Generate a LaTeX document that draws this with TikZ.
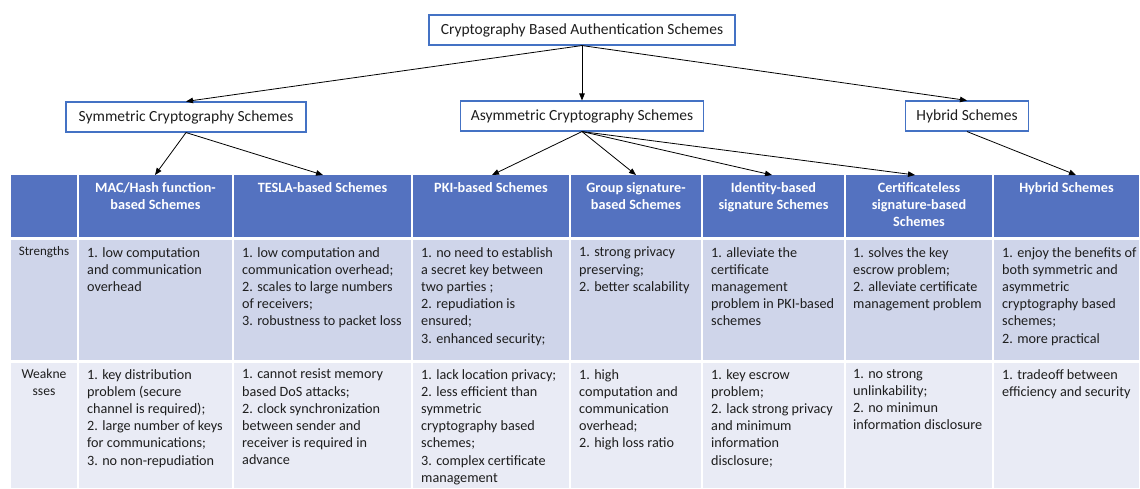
\documentclass[tikz,border=0pt]{standalone}
\usepackage{fontspec}
\setmainfont{Carlito}
\usetikzlibrary{arrows.meta,positioning}
\definecolor{boxblue}{RGB}{68,114,196}
\definecolor{hdrblue}{RGB}{84,114,192}
\definecolor{rowdark}{RGB}{207,213,234}
\definecolor{rowlight}{RGB}{233,235,245}
\definecolor{txt}{RGB}{30,30,30}

\begin{document}
\begin{tikzpicture}[x=1pt,y=-1pt,
  schemebox/.style={draw=boxblue, line width=1.1pt, fill=white, minimum height=30pt,
    inner xsep=8pt, font=\fontsize{15.5}{18}\selectfont, text=txt},
  arr/.style={-{Triangle[length=7pt,width=5.5pt]}, line width=0.8pt},
  hdrtext/.style={anchor=north, align=center, inner sep=0pt, text=white,
    font=\fontsize{14.2}{17.2}\selectfont\bfseries},
  celltext/.style={anchor=north west, align=left, inner sep=0pt, text=txt,
    font=\fontsize{14.2}{17.2}\selectfont},
  rowlabel/.style={anchor=north, align=center, inner sep=0pt, text=txt}]

\useasboundingbox (0,0) rectangle (1140,488);

% Celdas de la tabla: cabecera, fortalezas, debilidades
\foreach \xa/\xb in {10/78, 78/233, 233/412, 412/570, 570/702, 702/845, 845/993, 993/1140} {
  \fill[hdrblue]  (\xa+1,175) rectangle (\xb-1,237);
  \fill[rowdark]  (\xa+1,240) rectangle (\xb-1,360);
  \fill[rowlight] (\xa+1,363) rectangle (\xb-1,488);
}

% Cajas de la jerarquía
\node[schemebox, minimum width=306pt] (root)   at (582,30)  {Cryptography Based Authentication Schemes};
\node[schemebox, minimum width=240pt] (sym)    at (186,117) {Symmetric Cryptography Schemes};
\node[schemebox, minimum width=243pt] (asym)   at (582,116) {Asymmetric Cryptography Schemes};
\node[schemebox, minimum width=123pt] (hybrid) at (967,116) {Hybrid Schemes};

% Bordes superiores de las columnas
\coordinate (c2) at (155,175);
\coordinate (c3) at (323,175);
\coordinate (c4) at (492,175);
\coordinate (c5) at (636,175);
\coordinate (c6) at (772,175);
\coordinate (c7) at (915,175);
\coordinate (c8) at (1076,175);

% Flechas
\draw[arr] (root.south) -- (sym.north);
\draw[arr] (root.south) -- (asym.north);
\draw[arr] (root.south) -- (hybrid.north);
\draw[arr] (sym.south) -- (c2);
\draw[arr] (sym.south) -- (c3);
\foreach \c in {c4, c5, c6, c7} {
  \draw[arr] (asym.south) -- (\c);
}
\draw[arr] (hybrid.south) -- (c8);

% Cabecera
\node[hdrtext] (h2) at (155.5,182) {MAC/Hash function-\\based Schemes};
\node[hdrtext] (h3) at (322.5,182) {TESLA-based Schemes};
\node[hdrtext] (h4) at (491,182)   {PKI-based Schemes};
\node[hdrtext] (h5) at (636,182)   {Group signature-\\based Schemes};
\node[hdrtext] (h6) at (773.5,182) {Identity-based\\signature Schemes};
\node[hdrtext] (h7) at (919,182)   {Certificateless\\signature-based\\Schemes};
\node[hdrtext] (h8) at (1066.5,182) {Hybrid Schemes};

% Etiquetas de las filas
\node[rowlabel, font=\fontsize{13}{17.2}\selectfont] (lstr) at (44,246) {Strengths};
\node[rowlabel, font=\fontsize{13.6}{17.2}\selectfont] (lweak) at (44,369) {Weakne\\sses};

% Fortalezas
\node[celltext] (s2) at (87,247)   {1. low computation\\and communication\\overhead};
\node[celltext] (s3) at (242,247)  {1. low computation and\\communication overhead;\\2. scales to large numbers\\of receivers;\\3. robustness to packet loss};
\node[celltext] (s4) at (421,247)  {1. no need to establish\\a secret key between\\two parties ;\\2. repudiation is\\ensured;\\3. enhanced security;};
\node[celltext] (s5) at (579,247)  {1. strong privacy\\preserving;\\2. better scalability};
\node[celltext] (s6) at (711,247)  {1. alleviate the\\certificate\\management\\problem in PKI-based\\schemes};
\node[celltext] (s7) at (853,247)  {1. solves the key\\escrow problem;\\2. alleviate certificate\\management problem};
\node[celltext] (s8) at (1002,247) {1. enjoy the benefits of\\both symmetric and\\asymmetric\\cryptography based\\schemes;\\2. more practical};

% Debilidades
\node[celltext] (w2) at (87,369)   {1. key distribution\\problem (secure\\channel is required);\\2. large number of keys\\for communications;\\3. no non-repudiation};
\node[celltext] (w3) at (242,369)  {1. cannot resist memory\\based DoS attacks;\\2. clock synchronization\\between sender and\\receiver is required in\\advance};
\node[celltext] (w4) at (421,369)  {1. lack location privacy;\\2. less efficient than\\symmetric\\cryptography based\\schemes;\\3. complex certificate\\management};
\node[celltext] (w5) at (579,369)  {1. high\\computation and\\communication\\overhead;\\2. high loss ratio};
\node[celltext] (w6) at (711,369)  {1. key escrow\\problem;\\2. lack strong privacy\\and minimum\\information\\disclosure;};
\node[celltext] (w7) at (853,369)  {1. no strong\\unlinkability;\\2. no minimun\\information disclosure};
\node[celltext] (w8) at (1002,369) {1. tradeoff between\\efficiency and security};
\end{tikzpicture}
\end{document}
